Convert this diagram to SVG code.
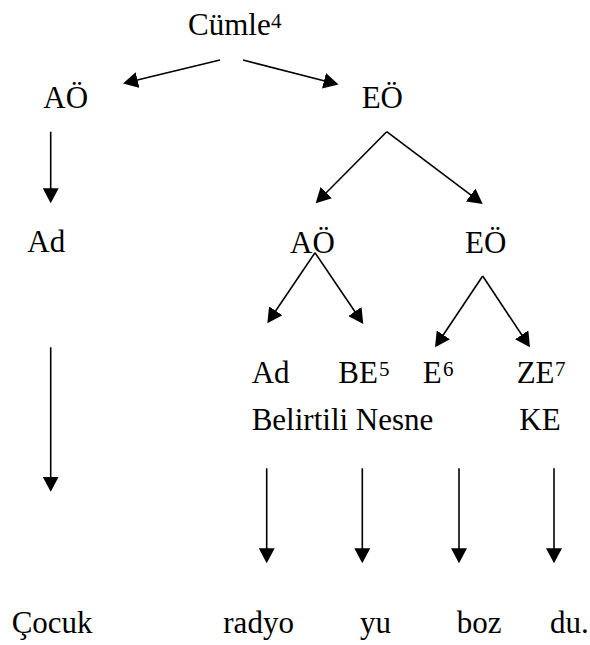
<svg xmlns="http://www.w3.org/2000/svg" width="590" height="645" viewBox="0 0 590 645">
<style>
text{font-family:"Liberation Serif","Times New Roman",serif;font-size:31px;fill:#000}
.sup{font-size:21px}
.c line{stroke:#000;stroke-width:1.6;fill:none;marker-end:url(#ah)}
</style>
<defs>
<marker id="ah" markerUnits="userSpaceOnUse" markerWidth="16" markerHeight="16" refX="12" refY="8" orient="auto">
<path d="M0,0 L15,8 L0,16 Z" fill="#000"/>
</marker>
</defs>
<rect width="590" height="645" fill="#fff"/>
<g class="c" id="connectors">
<line x1="220" y1="60" x2="125.9" y2="82.8"/>
<line x1="243" y1="60" x2="335.6" y2="83.8"/>
<line x1="50.7" y1="131.7" x2="50.7" y2="200.3"/>
<line x1="386.7" y1="131.7" x2="317.8" y2="201.2"/>
<line x1="386.7" y1="131.7" x2="480.3" y2="202.2"/>
<line x1="315" y1="252.7" x2="269" y2="320.8"/>
<line x1="315" y1="252.7" x2="361.6" y2="321.5"/>
<line x1="482.7" y1="276" x2="436.7" y2="344.8"/>
<line x1="482.7" y1="276" x2="528.3" y2="344.8"/>
<line x1="50.7" y1="347.3" x2="50.7" y2="488.7"/>
<line x1="266.7" y1="468.3" x2="266.7" y2="560.3"/>
<line x1="362.3" y1="468.3" x2="362.3" y2="560.3"/>
<line x1="459" y1="468.3" x2="459" y2="560.3"/>
<line x1="554" y1="468.3" x2="554" y2="560.3"/>
</g>
<g id="n-cumle"><text x="188" y="35">Cümle</text><text class="sup" x="271" y="28">4</text></g>
<g id="n-ao1"><text x="43.3" y="108.3">AÖ</text></g>
<g id="n-eo1"><text x="361.7" y="108.3">EÖ</text></g>
<g id="n-ad1"><text x="27.3" y="251.7">Ad</text></g>
<g id="n-ao2"><text x="290" y="252.7">AÖ</text></g>
<g id="n-eo2"><text x="465" y="252.7">EÖ</text></g>
<g id="n-ad2"><text x="251.7" y="383.3">Ad</text></g>
<g id="n-be"><text x="338.3" y="383.3">BE</text><text class="sup" x="379" y="376">5</text></g>
<g id="n-e"><text x="422.7" y="383.3">E</text><text class="sup" x="443" y="376">6</text></g>
<g id="n-ze"><text x="516.7" y="383.3">ZE</text><text class="sup" x="555" y="376">7</text></g>
<g id="n-bn"><text x="251.7" y="430">Belirtili Nesne</text></g>
<g id="n-ke"><text x="519.3" y="430">KE</text></g>
<g id="n-cocuk"><text x="11.7" y="633.3">Çocuk</text></g>
<g id="n-radyo"><text x="223.3" y="633.3">radyo</text></g>
<g id="n-yu"><text x="360" y="633.3">yu</text></g>
<g id="n-boz"><text x="456.7" y="633.3">boz</text></g>
<g id="n-du"><text x="550" y="633.3">du.</text></g>
</svg>
